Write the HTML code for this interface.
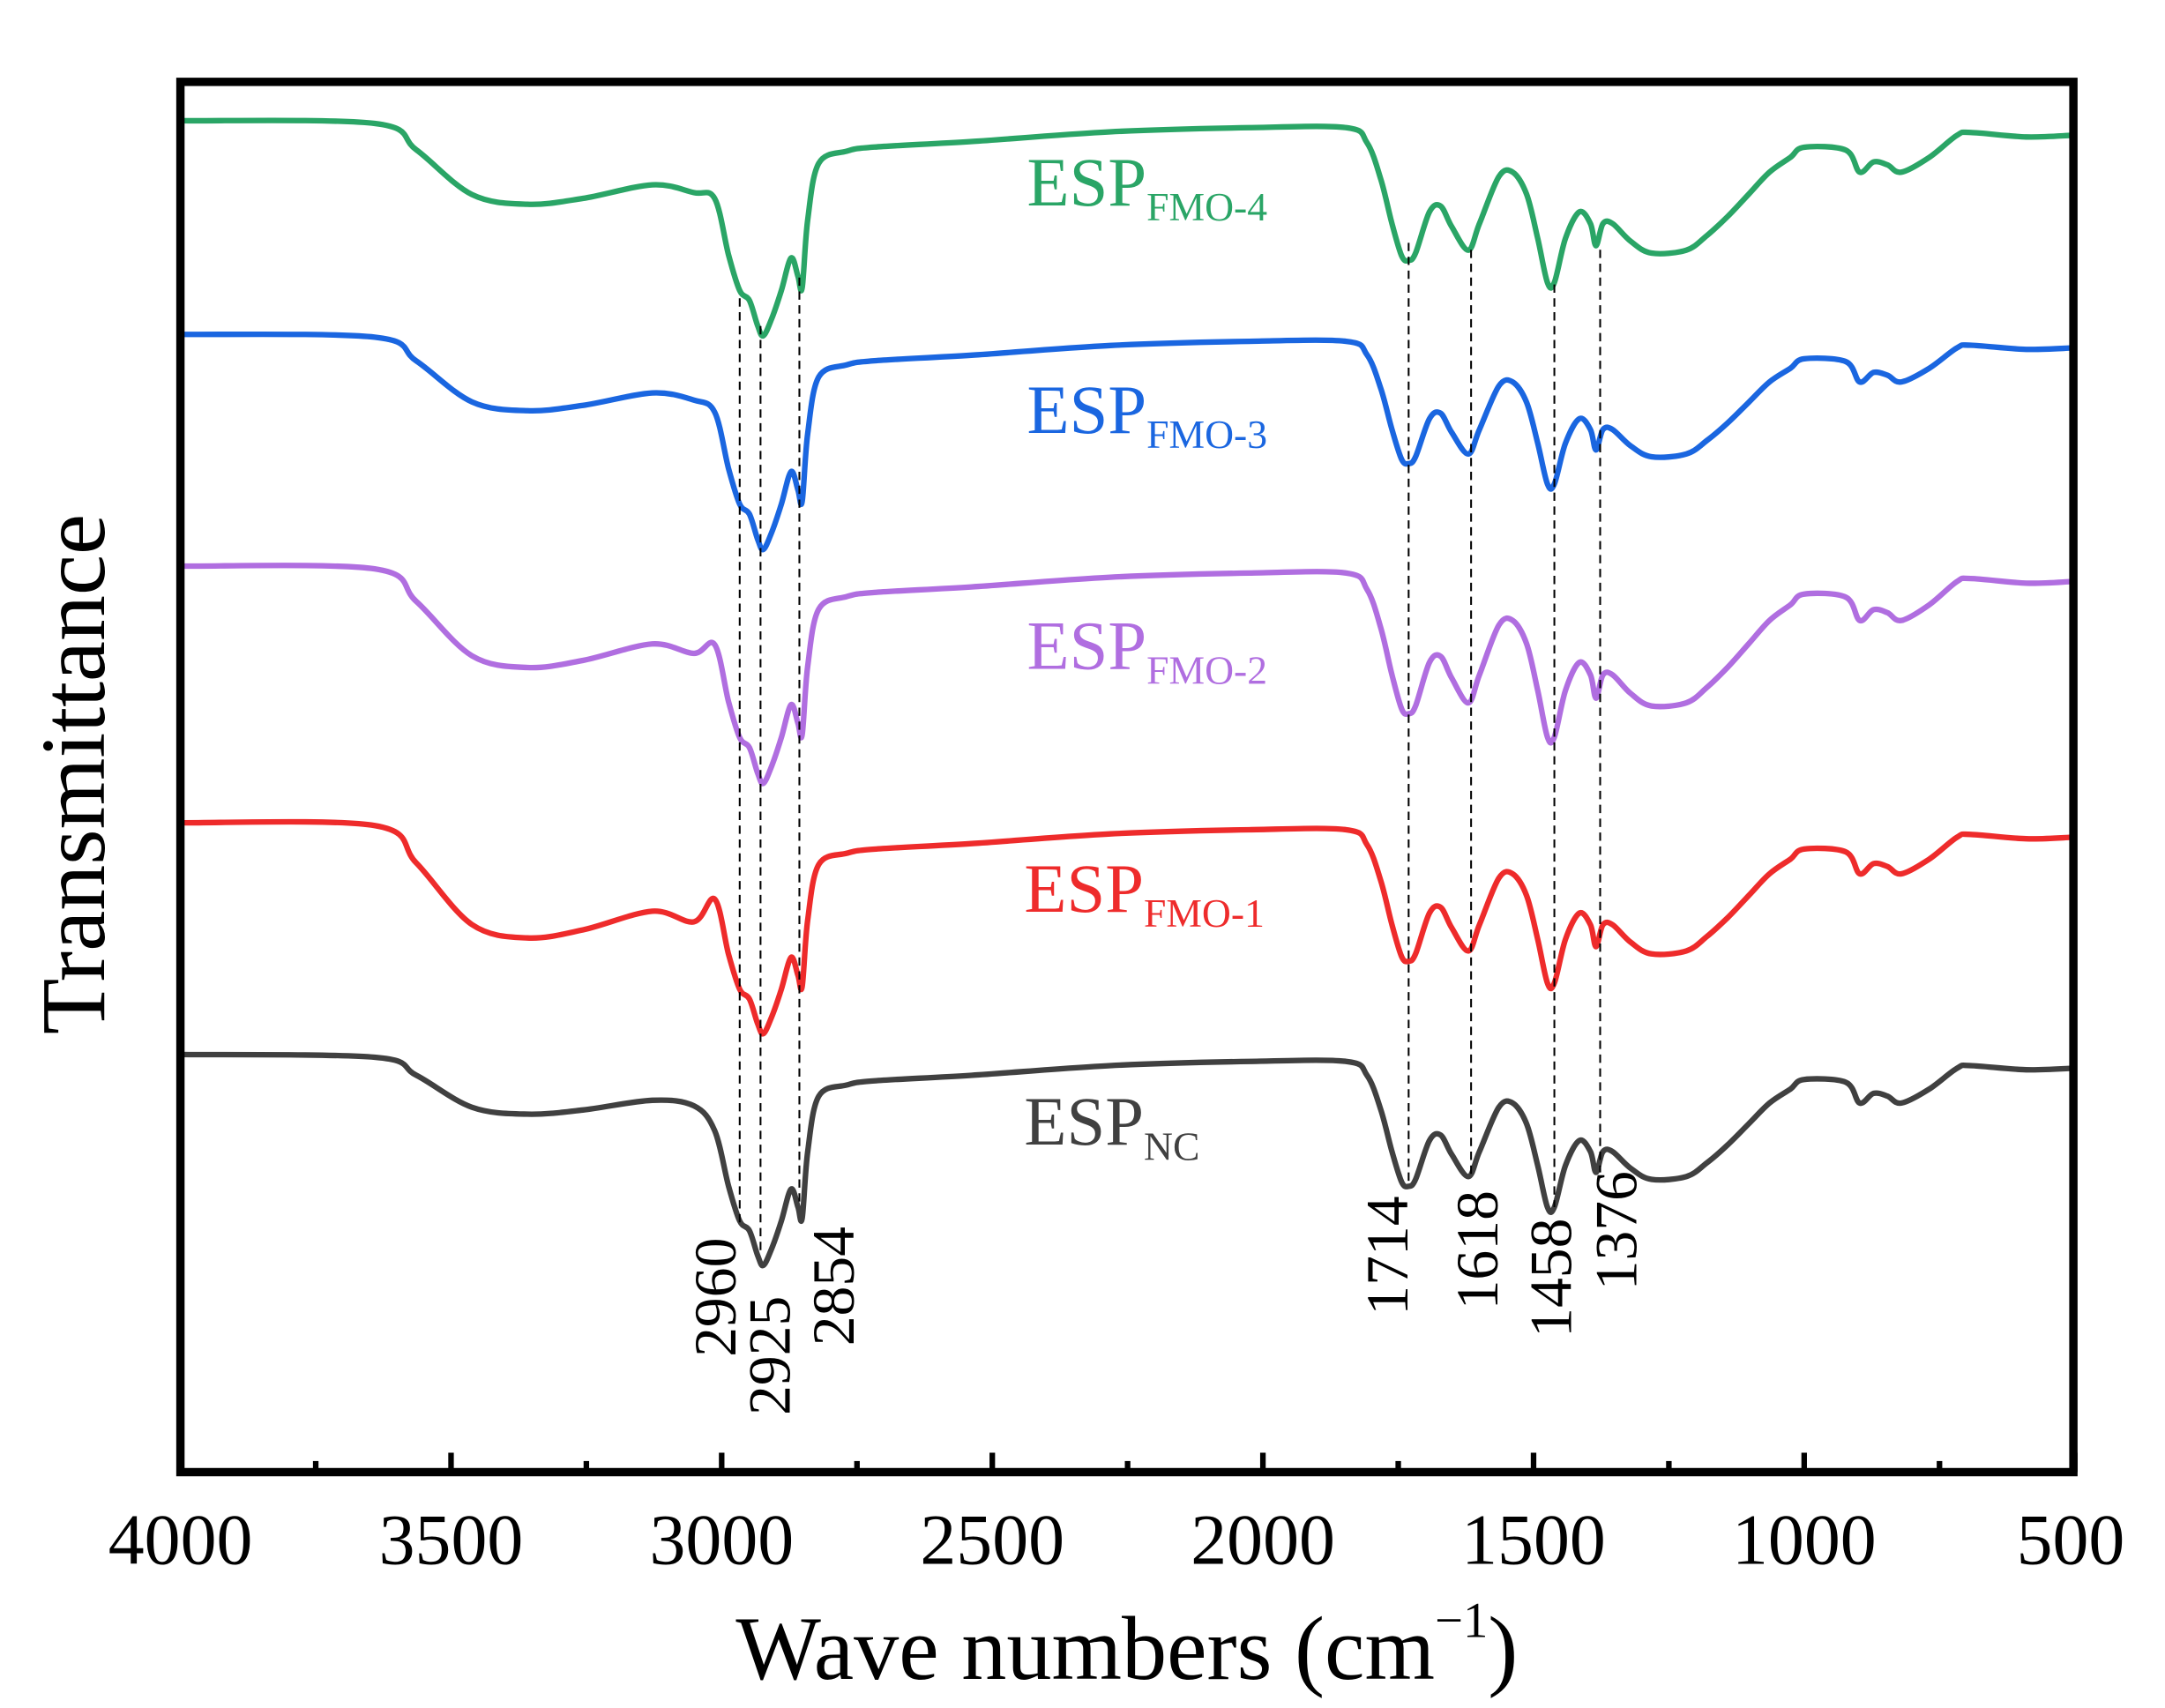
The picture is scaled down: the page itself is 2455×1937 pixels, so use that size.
<!DOCTYPE html>
<html><head><meta charset="utf-8"><style>
html,body{margin:0;padding:0;background:#fff;}
svg{display:block;}
text{font-family:"Liberation Serif","Times New Roman",serif;}
</style></head><body>
<svg id="s" width="2455" height="1937" viewBox="0 0 1560 1231" preserveAspectRatio="none" xmlns="http://www.w3.org/2000/svg">
<rect x="0" y="0" width="1560" height="1231" fill="#fff"/>
<g id="curves" fill="none" stroke-width="4" stroke-linejoin="round" stroke-linecap="round"></g>
<g stroke="#000" stroke-width="1.3" stroke-dasharray="6,4">
<line x1="533" y1="215" x2="533" y2="885"/>
<line x1="548" y1="235" x2="548" y2="905"/>
<line x1="576" y1="200" x2="576" y2="870"/>
<line x1="1015" y1="175" x2="1015" y2="855"/>
<line x1="1060" y1="180" x2="1060" y2="848"/>
<line x1="1120" y1="205" x2="1120" y2="870"/>
<line x1="1153" y1="180" x2="1153" y2="845"/>
</g>
<rect x="130" y="59" width="1364" height="1002" fill="none" stroke="#000" stroke-width="6"/>
<g id="ticks" stroke="#000" stroke-width="4"></g>
<g font-size="52" text-anchor="middle">
<text x="130" y="1127">4000</text><text x="325" y="1127">3500</text><text x="520" y="1127">3000</text>
<text x="715" y="1127">2500</text><text x="910" y="1127">2000</text><text x="1105" y="1127">1500</text>
<text x="1300" y="1127">1000</text><text x="1492" y="1127">500</text>
</g>
<text x="812" y="1210" font-size="65" text-anchor="middle">Wave numbers (cm<tspan font-size="36" dy="-30">−1</tspan><tspan dy="30">)</tspan></text>
<text transform="translate(75,558) rotate(-90)" font-size="66" text-anchor="middle">Transmittance</text>
<g font-size="50">
<text x="740" y="148" fill="#2aa566">ESP<tspan font-size="29" dy="11">FMO-4</tspan></text>
<text x="740" y="312" fill="#1a66e0">ESP<tspan font-size="29" dy="11">FMO-3</tspan></text>
<text x="740" y="482" fill="#b06ee0">ESP<tspan font-size="29" dy="11">FMO-2</tspan></text>
<text x="738" y="657" fill="#ee2b2b">ESP<tspan font-size="29" dy="11">FMO-1</tspan></text>
<text x="738" y="825" fill="#404040">ESP<tspan font-size="29" dy="11">NC</tspan></text>
</g>
<g font-size="43">
<text transform="translate(530,978) rotate(-90)">2960</text>
<text transform="translate(569,1020) rotate(-90)">2925</text>
<text transform="translate(615,970) rotate(-90)">2854</text>
<text transform="translate(1014,948) rotate(-90)">1714</text>
<text transform="translate(1079,944) rotate(-90)">1618</text>
<text transform="translate(1132,964) rotate(-90)">1458</text>
<text transform="translate(1179,930) rotate(-90)">1376</text>
</g>
</svg>
<script>
var T=[[130,0,0],[270,2,0],[300,15,1],[340,38,1],[380,43,1],[420,40,1],[470,33,1],[500,37,1],[515,55,2],[525,95,2],[533,120,2],[540,127,2],[546,145,2],[550,152,2],[556,140,2],[563,120,2],[570,97,2],[575,110,2],[578,118,2],[582,70,2],[590,30,2],[610,22,0],[630,19,0],[700,15,0],[800,8,0],[900,5,0],[970,5,0],[985,15,3],[995,40,3],[1003,70,3],[1010,92,3],[1015,95,3],[1020,90,3],[1030,62,3],[1038,58,3],[1046,72,3],[1058,88,3],[1066,70,3],[1080,38,3],[1090,35,3],[1100,50,3],[1108,80,3],[1115,110,3],[1120,110,3],[1128,80,3],[1138,62,3],[1146,70,3],[1150,85,3],[1155,70,3],[1162,70,3],[1175,82,3],[1190,90,3],[1215,88,3],[1230,78,3],[1245,65,3],[1260,50,3],[1275,35,3],[1290,25,3],[1300,18,3],[1330,20,3],[1340,35,3],[1350,28,3],[1360,30,3],[1370,35,3],[1390,25,3],[1410,10,3],[1420,8,3],[1460,11,3],[1492,10,3]];
var S=[["#404040",760,[1,1,1,1]],["#ee2b2b",593,[1,1.93,1,1.05]],["#b06ee0",408,[1,1.7,1.03,1.12]],["#1a66e0",241,[1,1.28,1.02,0.98]],["#2aa566",87,[1,1.4,1.02,1.06]]];
var g=document.getElementById('curves'),ns="http://www.w3.org/2000/svg";
S.forEach(function(s){var P=T.map(function(p){return [p[0],s[1]+p[1]*s[2][p[2]]];});
var d="M"+P[0][0]+","+P[0][1].toFixed(1);
for(var i=0;i<P.length-1;i++){var p0=P[Math.max(0,i-1)],p1=P[i],p2=P[i+1],p3=P[Math.min(P.length-1,i+2)];
var c1x=p1[0]+(p2[0]-p0[0])/6,c1y=p1[1]+(p2[1]-p0[1])/6,c2x=p2[0]-(p3[0]-p1[0])/6,c2y=p2[1]-(p3[1]-p1[1])/6;
d+="C"+c1x.toFixed(1)+","+c1y.toFixed(1)+" "+c2x.toFixed(1)+","+c2y.toFixed(1)+" "+p2[0]+","+p2[1].toFixed(1);}
var e=document.createElementNS(ns,"path");e.setAttribute("d",d);e.setAttribute("stroke",s[0]);g.appendChild(e);});
var t=document.getElementById('ticks');
for(var w=4000;w>=500;w-=250){var x=130+(4000-w)*0.39;var L=(w%500==0)?14:8;
var l=document.createElementNS(ns,"line");l.setAttribute("x1",x);l.setAttribute("x2",x);l.setAttribute("y1",1061);l.setAttribute("y2",1061-L);t.appendChild(l);}
</script>
</body></html>
